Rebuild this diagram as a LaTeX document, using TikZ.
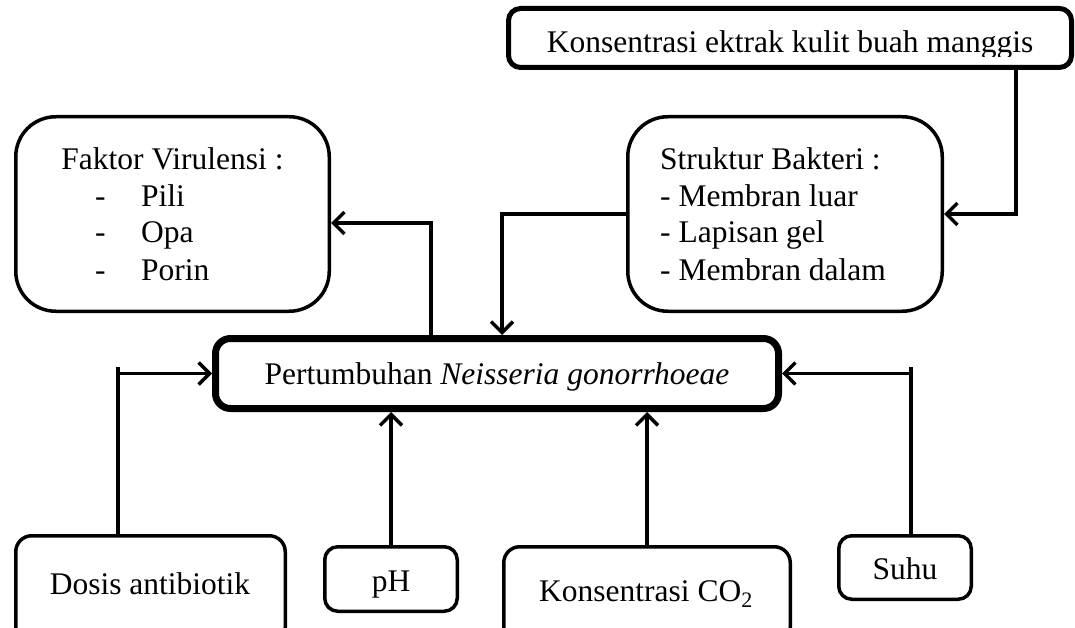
\documentclass[tikz,border=0pt]{standalone}
\usepackage{fontspec}
\setmainfont{Liberation Serif}
\usetikzlibrary{arrows.meta}
\begin{document}
\begin{tikzpicture}[x=1pt,y=-1pt,
  box/.style={draw, line width=3.5pt, fill=white, inner sep=0pt},
  conn/.style={line width=3.5pt},
  arr/.style={line width=3.5pt, -{Straight Barb[length=11pt,width=22pt,line width=3.5pt]}},
  txt/.style={inner sep=0pt, font=\fontsize{31.5}{37}\selectfont},
]
\useasboundingbox (0,0) rectangle (1075,628);
\clip (0,0) rectangle (1075,628);

% boxes
\node[box, line width=5pt, rounded corners=12pt, minimum width=563pt, minimum height=59pt] (top) at (790,38) {};
\node[box, rounded corners=40pt, minimum width=313.5pt, minimum height=194.5pt] (faktor) at (172.5,214) {};
\node[box, rounded corners=40pt, minimum width=314.5pt, minimum height=194.5pt] (struk) at (785,214) {};
\node[box, line width=7pt, rounded corners=15pt, minimum width=563pt, minimum height=70pt] (main) at (497,373.5) {};
\node[box, rounded corners=16pt, minimum width=269.5pt, minimum height=107.5pt] (dosis) at (150.5,589.5) {};
\node[box, rounded corners=13pt, minimum width=132.5pt, minimum height=64.5pt] (ph) at (391,579) {};
\node[box, rounded corners=16pt, minimum width=286.5pt, minimum height=96.5pt] (co2) at (647,595) {};
\node[box, rounded corners=13pt, minimum width=132.5pt, minimum height=63.5pt] (suhu) at (905,567.5) {};

% texts
\begin{scope}
  \clip (506,0) rectangle (1075,57);
  \node[txt, anchor=base] (topT) at (790,53) {Konsentrasi ektrak kulit buah manggis};
\end{scope}
\node[txt, anchor=base] (mainT) at (497,384) {Pertumbuhan \textit{Neisseria gonorrhoeae}};

\node[txt, anchor=base] (fk0) at (172.5,170) {Faktor Virulensi :};
\node[txt, anchor=base west] (fd1) at (95,207) {-};
\node[txt, anchor=base west] (fk1) at (141,207) {Pili};
\node[txt, anchor=base west] (fd2) at (95,243) {-};
\node[txt, anchor=base west] (fk2) at (141,243) {Opa};
\node[txt, anchor=base west] (fd3) at (95,280) {-};
\node[txt, anchor=base west] (fk3) at (141,280) {Porin};

\node[txt, anchor=base west] (sb0) at (660,170) {Struktur Bakteri :};
\node[txt, anchor=base west] (sb1) at (660,207) {- Membran luar};
\node[txt, anchor=base west] (sb2) at (660,243) {- Lapisan gel};
\node[txt, anchor=base west] (sb3) at (660,280) {- Membran dalam};

\node[txt, anchor=base] (dosisT) at (150,594) {Dosis antibiotik};
\node[txt, anchor=base] (phT) at (391,591) {pH};
\node[txt, anchor=base] (co2T) at (646,601) {Konsentrasi CO\textsubscript{2}};
\node[txt, anchor=base] (suhuT) at (905,579) {Suhu};

% helper coordinates
\coordinate (c1) at (1016,213);
\coordinate (c2) at (431,223);
\coordinate (c3) at (502,214);
\coordinate (tickL) at (118,367);
\coordinate (tickR) at (911,367);

% connectors
\draw[arr] (top.south -| c1) |- (struk.east);
\draw[arr] (main.north -| c2) |- (faktor.east |- c2);
\draw[arr] (struk.west) -| (main.north -| c3);
\draw[conn] (dosis.north -| tickL) -- (tickL);
\draw[arr] (tickL |- main.west) -- (main.west);
\draw[conn] (suhu.north -| tickR) -- (tickR);
\draw[arr] (tickR |- main.east) -- (main.east);
\draw[arr] (ph.north) -- (ph.north |- main.south);
\draw[arr] (co2.north) -- (co2.north |- main.south);
\end{tikzpicture}
\end{document}
